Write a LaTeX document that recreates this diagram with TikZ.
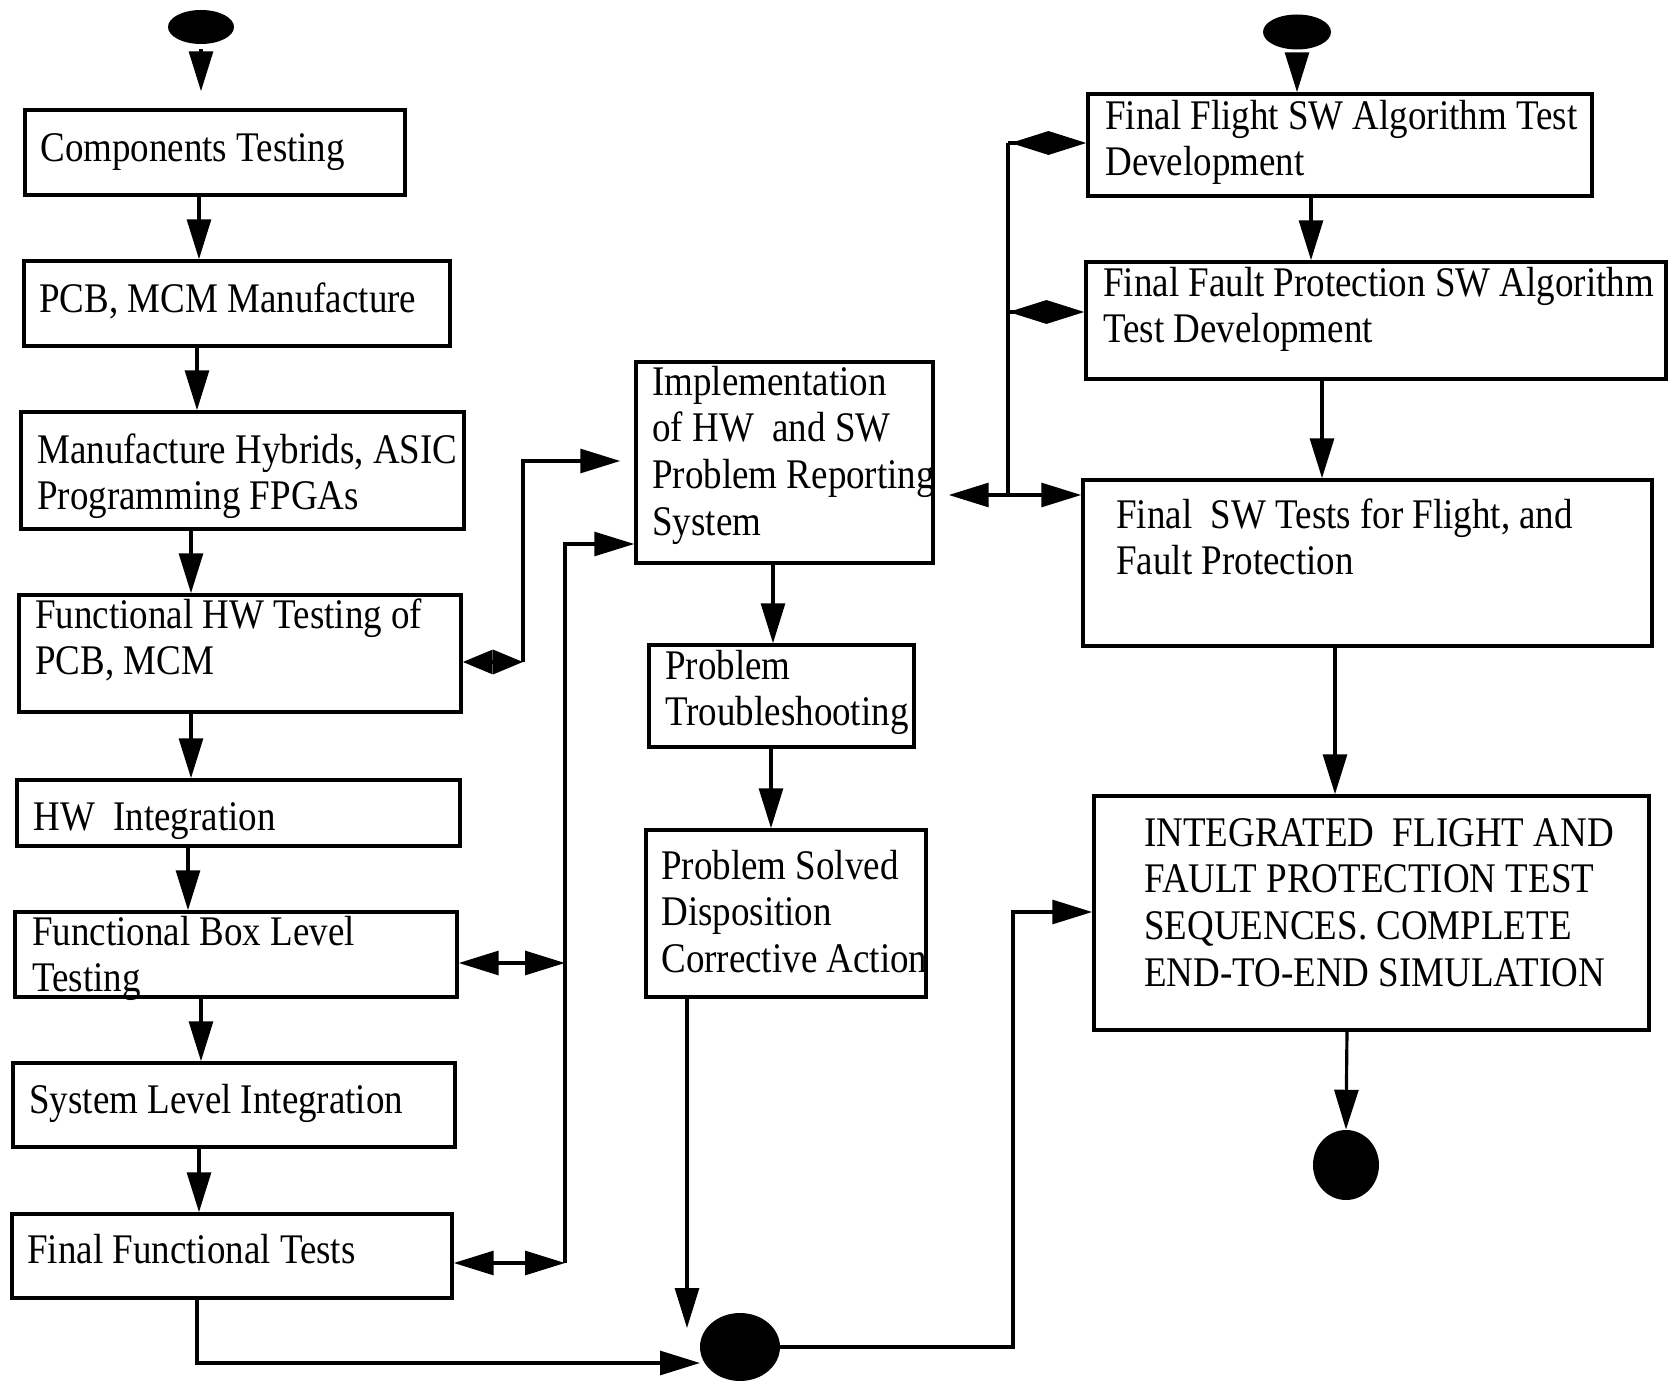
\documentclass[tikz,border=0pt]{standalone}
\usepackage{fontspec}
\setmainfont{Liberation Serif}[FakeStretch=0.877]
\usetikzlibrary{arrows.meta,shapes.geometric,fit}

\tikzset{
  >={Triangle[length=22.7pt,width=13.6pt]},
  conn/.style={line width=1.8pt},
  boxstyle/.style={draw, line width=2pt, inner sep=0pt},
  txt/.style={anchor=north west, inner sep=0pt, yshift=18.55pt, align=left,
              font=\fontsize{24}{26.5}\selectfont},
  blob/.style={ellipse, fill=black, draw=none, inner sep=0pt},
  shorthead/.style={{Triangle[length=17pt,width=13.6pt]}-{Triangle[length=17pt,width=13.6pt]}},
  diamondhead/.style={-{Diamond[length=43pt,width=13.6pt]}}
}

% name, x1, y1, x2, y2, text x, first baseline y, text
\newcommand\flowbox[8]{%
  \node[boxstyle, fit={(#2,#3) (#4,#5)}] (#1) {};
  \node[txt] (#1-text) at (#6,#7) {\strut #8};
}

\begin{document}
\begin{tikzpicture}[x=0.02cm, y=-0.02cm]
\fill[white] (0,0) rectangle (1668,1381);
\useasboundingbox (0,0) rectangle (1668,1381);

% ---------- left column ----------
\node[blob, minimum width=1.32cm, minimum height=0.68cm] (s1) at (201,27) {};
\flowbox{b1}{25}{110}{405}{195}{40}{161}{Components Testing}
\flowbox{b2}{24}{261}{450}{346}{39}{312}{PCB, MCM Manufacture}
\flowbox{b3}{21}{412}{464}{529}{37}{463}{Manufacture Hybrids, ASIC\\Programming FPGAs}
\flowbox{b4}{19}{595}{461}{712}{35}{628}{Functional HW Testing of\\PCB, MCM}
\flowbox{b5}{17}{780}{460}{846}{33}{830}{HW\ \ Integration}
\flowbox{b6}{15}{912}{457}{997}{32}{945}{Functional Box Level\\Testing}
\flowbox{b7}{13}{1063}{455}{1147}{29}{1113}{System Level Integration}
\flowbox{b8}{12}{1214}{452}{1298}{27}{1263}{Final Functional Tests}

% ---------- middle column ----------
\flowbox{m1}{636}{362}{933}{563}{652}{395}{Implementation\\of HW\ \ and SW\\Problem Reporting\\System}
\flowbox{m2}{649}{645}{914}{747}{665}{679}{Problem\\Troubleshooting}
\flowbox{m3}{646}{830}{926}{997}{661}{879}{Problem Solved\\Disposition\\Corrective Action}
\node[blob, minimum width=1.6cm, minimum height=1.36cm] (e1) at (740,1347) {};

% ---------- right column ----------
\node[blob, minimum width=1.36cm, minimum height=0.7cm] (s2) at (1297,32) {};
\flowbox{r1}{1088}{94}{1592}{196}{1105}{129}{Final Flight SW Algorithm Test\\Development}
\flowbox{r2}{1086}{262}{1666}{379}{1103}{296}{Final Fault Protection SW Algorithm\\Test Development}
\flowbox{r3}{1083}{480}{1652}{646}{1116}{528}{Final\ \ SW Tests for Flight, and\\Fault Protection}
\flowbox{r4}{1094}{796}{1649}{1030}{1144}{846}{INTEGRATED\ \ FLIGHT AND\\FAULT PROTECTION TEST\\SEQUENCES. COMPLETE\\END-TO-END SIMULATION}
\node[blob, minimum width=1.32cm, minimum height=1.4cm] (e2) at (1346,1165) {};

% ---------- flow arrows ----------
\draw[conn, ->, shorten <=0.1cm, shorten >=0.34cm] (s1.south) -- (s1.south |- b1.north);
\foreach \u/\v/\xx in {b1/b2/199, b2/b3/197, b3/b4/191, b4/b5/191, b5/b6/188, b6/b7/201, b7/b8/199}
  \draw[conn, ->] (\xx,0 |- \u.south) -- (\xx,0 |- \v.north);

\draw[conn, ->] (773,0 |- m1.south) -- (773,0 |- m2.north);
\draw[conn, ->] (771,0 |- m2.south) -- (771,0 |- m3.north);

\draw[conn, ->, shorten <=0.06cm] (s2.south) -- (s2.south |- r1.north);
\draw[conn, ->] (1311,0 |- r1.south) -- (1311,0 |- r2.north);
\draw[conn, ->] (1322,0 |- r2.south) -- (1322,0 |- r3.north);
\draw[conn, ->] (1335,0 |- r3.south) -- (1335,0 |- r4.north);
\draw[conn, ->] (1347,0 |- r4.south) -- (e2.north);

% ---------- problem reporting links ----------
\coordinate (k1) at (523,662);
\coordinate (k2) at (523,461);
\draw[conn, shorthead] (k1 -| b4.east) -- (k1);
\draw[conn, ->, shorten >=0.28cm] (k1) -- (k2) -- (k2 -| m1.west);

\coordinate (v6) at (565,963);
\coordinate (v8) at (565,1263);
\coordinate (vt) at (565,544);
\draw[conn, <->] (v6 -| b6.east) -- (v6);
\draw[conn, <->] (v8 -| b8.east) -- (v8);
\draw[conn, ->] (v8) -- (vt) -- (vt -| m1.west);

\coordinate (jn) at (1008,495);
\coordinate (jd1) at (1008,143);
\coordinate (jd2) at (1008,312);
\draw[conn] (jn) -- (jd1);
\draw[conn, diamondhead] (jd1) -- (jd1 -| r1.west);
\draw[conn, diamondhead] (jd2) -- (jd2 -| r2.west);
\draw[conn, ->] (jn) -- (jn -| r3.west);
\draw[conn, ->, shorten >=0.28cm] (jn) -- (jn -| m1.east);

% ---------- merge and final sequence ----------
\coordinate (md) at (687,1328);
\draw[conn, ->] (md |- m3.south) -- (md);
\coordinate (bt) at (197,1363);
\coordinate (bn) at (700,1363);
\draw[conn, ->] (bt |- b8.south) -- (bt) -- (bn);
\coordinate (rt1) at (1013,1347);
\coordinate (rt2) at (1013,912);
\draw[conn, ->] (e1.east) -- (rt1) -- (rt2) -- (rt2 -| r4.west);
\end{tikzpicture}
\end{document}
